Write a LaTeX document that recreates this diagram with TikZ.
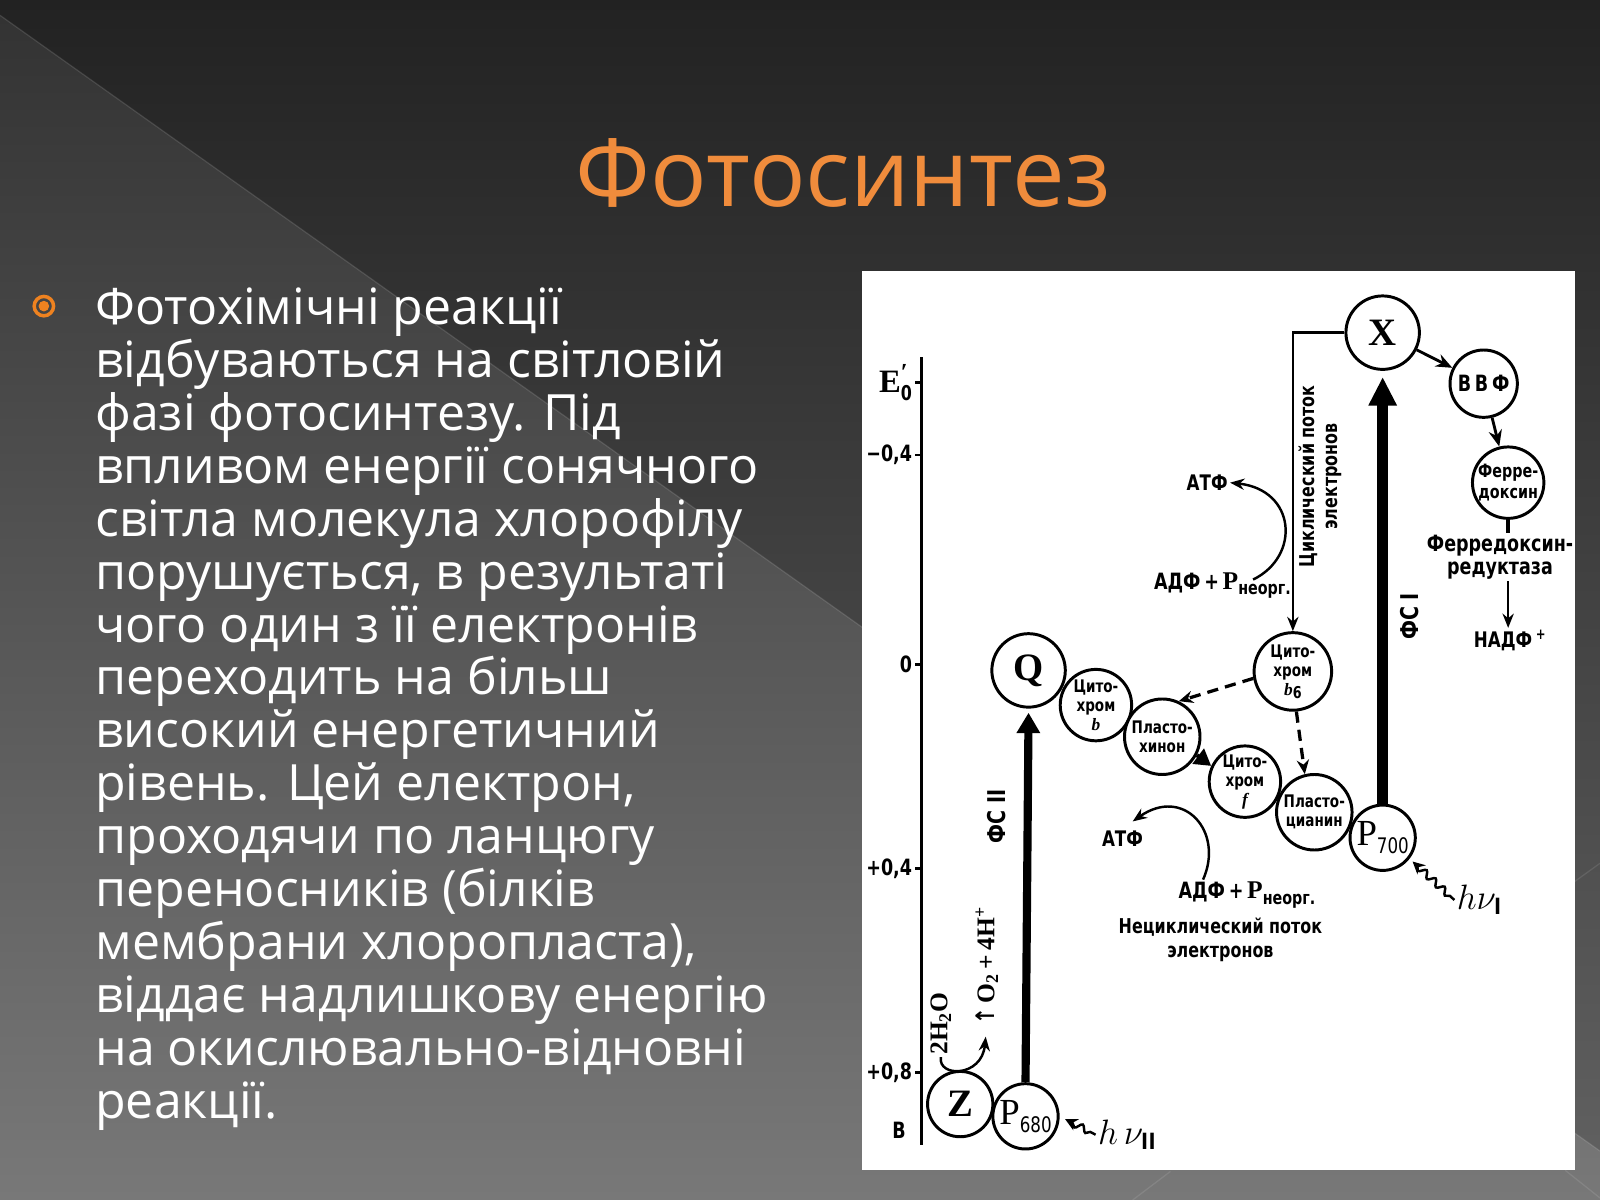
\documentclass[tikz,border=0pt]{standalone}
\usepackage{fontspec}
\setmainfont{Open Sans}
\newfontfamily\dfont{DejaVu Sans}[FakeStretch=0.78]
\newfontfamily\serfont{Liberation Serif}
\usetikzlibrary{arrows.meta,decorations.pathmorphing}
\definecolor{bgA}{HTML}{222222}
\definecolor{bgB}{HTML}{292929}
\definecolor{bgC}{HTML}{626262}
\definecolor{trA}{HTML}{333333}
\definecolor{trB}{HTML}{3F3F3F}
\definecolor{trC}{HTML}{787878}
\definecolor{titleor}{HTML}{F08C3C}
\definecolor{bulor}{HTML}{EE8220}
\begin{document}
\begin{tikzpicture}[x=0.5pt,y=-0.5pt,
  carrier/.style={circle,draw=black,line width=1.45pt,fill=white,inner sep=0pt,minimum size=#1pt},
  lbl/.style={align=center,inner sep=0pt,font=\dfont\bfseries\fontsize{8.5}{9.3}\selectfont},
  serlbl/.style={inner sep=0pt,font=\serfont\bfseries\fontsize{19}{19}\selectfont},
  dtext/.style={inner sep=1pt,align=center,font=\dfont\bfseries\fontsize{10.5}{12}\selectfont},
  axlbl/.style={anchor=east,inner sep=1pt,font=\dfont\bfseries\fontsize{11}{12}\selectfont},
  thinarrow/.style={line width=1.2pt,-{Stealth[length=7pt,width=5.5pt]}},
  dasharrow/.style={line width=1.6pt,dash pattern=on 5.5pt off 3.5pt,-{Stealth[length=7pt,width=6pt]}},
  wavy/.style={line width=1.2pt,-{Stealth[length=6pt,width=6pt]},decorate,decoration={snake,amplitude=1.6pt,segment length=6pt,pre length=3pt,post length=5pt}},
  body/.style={anchor=base west,inner sep=0pt,text=white,font=\fontsize{24.5}{30}\selectfont}
]
\useasboundingbox (0,0) rectangle (1568,1176);
% background
\shade[top color=bgA, middle color=bgB, bottom color=bgC] (0,0) rectangle (1568,1176);
\shade[top color=trA, middle color=trB, bottom color=trC] (0,15) -- (1568,1128) -- (1568,1176) -- (0,1176) -- cycle;
\draw[white, opacity=0.12, line width=0.6pt] (0,15) -- (1568,1128);
\draw[white, opacity=0.10, line width=0.6pt] (1543,864) -- (1568,846);
\draw[white, opacity=0.10, line width=0.6pt] (1534,1147) -- (1568,1174);
\draw[white, opacity=0.10, line width=0.6pt] (1110,1176) -- (1147,1148);

% title
\node[text=titleor, font=\fontsize{46}{50}\selectfont, inner sep=0pt] (title) at (826,170) {Фотосинтез};

% bullet and body text
\node[circle, draw=bulor, line width=1.7pt, minimum size=9.5pt, inner sep=0pt] (bullet) at (43,300) {};
\fill[bulor] (bullet.center) circle (2.6pt);
\foreach \t [count=\i] in {Фотохімічні реакції, відбуваються на світловій, фазі фотосинтезу. Під, впливом енергії сонячного, світла молекула хлорофілу, {порушується, в результаті}, чого один з її електронів, переходить на більш, високий енергетичний, {рівень. Цей електрон,}, проходячи по ланцюгу, переносників (білків, {мембрани хлоропласта),}, віддає надлишкову енергію, на окислювально-відновні, реакції.}
  \node[body] (l\i) at (93,{318+(\i-1)*51.87}) {\t};

% white panel
\fill[white] (845,266) rectangle (1543,1147);

% axis
\coordinate (axtop) at (903,350);
\coordinate (axbot) at (903,1122);
\draw[line width=1.3pt] (axtop) -- (axbot);
\draw[line width=1.2pt] (903,375) -- (897,375) node[anchor=east,inner sep=1pt,font=\serfont\bfseries\fontsize{16}{16}\selectfont] (e0) {E\rlap{\raisebox{0.8ex}{\fontsize{12}{12}\selectfont\bfseries ′}}\raisebox{-0.55ex}{\dfont\bfseries\fontsize{10}{10}\selectfont 0}};
\draw[line width=1.2pt] (903,446) -- (897,446) node[axlbl] (m04) {−0,4};
\draw[line width=1.2pt] (903,651) -- (897,651) node[axlbl] (z0) {0};
\draw[line width=1.2pt] (903,851) -- (897,851) node[axlbl] (p04) {+0,4};
\draw[line width=1.2pt] (903,1051) -- (897,1051) node[axlbl] (p08) {+0,8};
\node[axlbl, anchor=center] (vlab) at (881,1108) {В};

% carriers
\node[carrier=36] (X) at (1355,326) {};
\node[serlbl] (Xt) at (X) {X};
\node[carrier=33] (vvf) at (1454,376) {};
\node[lbl, font=\dfont\bfseries\fontsize{11}{11}\selectfont] (vvft) at (vvf) {В\,В\,Ф};
\node[carrier=35] (fd) at (1478,473) {};
\node[lbl, font=\dfont\bfseries\fontsize{9}{10.5}\selectfont] (fdt) at (fd) {Ферре-\\доксин};
\node[carrier=36] (Q) at (1008,657) {};
\node[serlbl] (Qt) at (Q) {Q};
\node[carrier=35] (cb) at (1074,691) {};
\node[lbl] (cbt) at (cb) {Цито-\\хром\\{\serfont\itshape b}};
\node[carrier=37] (pq) at (1139,722) {};
\node[lbl] (pqt) at (pq) {Пласто-\\хинон};
\node[carrier=38] (b6) at (1267,658) {};
\node[lbl] (b6t) at (b6) {Цито-\\хром\\{\serfont\itshape b}\raisebox{-0.3ex}{\fontsize{8}{8}\selectfont 6}};
\node[carrier=35] (cf) at (1220,766) {};
\node[lbl] (cft) at (cf) {Цито-\\хром\\{\serfont\itshape f}};
\node[carrier=37] (pc) at (1288,796) {};
\node[lbl] (pct) at (pc) {Пласто-\\цианин};
\node[carrier=32] (p700) at (1355,821) {};
\node[serlbl, font=\serfont\fontsize{18}{18}\selectfont] (p700t) at (p700) {P\raisebox{-0.45ex}{\dfont\fontsize{10.5}{10}\selectfont 700}};
\node[carrier=32] (Z) at (941,1082) {};
\node[serlbl] (Zt) at (Z) {Z};
\node[carrier=32] (p680) at (1005,1094) {};
\node[serlbl, font=\serfont\fontsize{18}{18}\selectfont] (p680t) at (p680) {P\raisebox{-0.45ex}{\dfont\fontsize{10.5}{10}\selectfont 680}};

% text labels
\node[dtext, font=\dfont\bfseries\fontsize{11}{11}\selectfont] (fr) at (1470,546) {Ферредоксин-\\редуктаза};
\node[dtext] (nadp) at (1480,628) {НАДФ\,\textsuperscript{+}};
\node[dtext] (atp1) at (1183,473) {АТФ};
\node[dtext, font=\dfont\bfseries\fontsize{11}{11}\selectfont] (adp1) at (1198,574) {АДФ\,+\,{\serfont\fontsize{12.5}{12}\selectfont P}\raisebox{-0.45ex}{\fontsize{9}{9}\selectfont неорг.}};
\node[dtext] (atp2) at (1100,822) {АТФ};
\node[dtext, font=\dfont\bfseries\fontsize{11}{11}\selectfont] (adp2) at (1222,877) {АДФ\,+\,{\serfont\fontsize{12.5}{12}\selectfont P}\raisebox{-0.45ex}{\fontsize{9}{9}\selectfont неорг.}};
\node[dtext, font=\dfont\bfseries\fontsize{10}{12}\selectfont] (ncyc) at (1196,921) {Нециклический поток\\электронов};
\node[dtext, rotate=90, font=\dfont\bfseries\fontsize{10}{11}\selectfont] (cyc) at (1294,467) {Циклический поток\\электронов};
\node[dtext, rotate=90, font=\dfont\bfseries\fontsize{12}{12}\selectfont] (fs2) at (977,800) {ФС II};
\node[dtext, rotate=90, font=\dfont\bfseries\fontsize{12}{12}\selectfont] (fs1) at (1381,604) {ФС I};
\node[rotate=90, inner sep=1pt, font=\serfont\bfseries\fontsize{12.5}{12}\selectfont] (h2o) at (922,1003) {2H\textsubscript{2}O};
\node[rotate=90, inner sep=1pt, font=\serfont\bfseries\fontsize{12.5}{12}\selectfont] (o2) at (967,946) {{\dfont\bfseries ↑}\,O\textsubscript{2}\,+\,4H\textsuperscript{+}};
\node[inner sep=1pt, font=\fontsize{16}{16}\selectfont] (hv1) at (1450,882) {$h\nu_{\mathbf{I}}$};
\node[inner sep=1pt, font=\fontsize{16}{16}\selectfont] (hv2) at (1105,1112) {$h\,\nu_{\mathbf{II}}$};

% connectors
\draw[line width=4pt, -{Triangle[length=10pt,width=11pt]}, shorten >=2pt] (p680.north) -- (Q.south);
\draw[line width=5.5pt, -{Triangle[length=14pt,width=13pt]}, shorten >=3pt] (p700.north) -- (X.south);
\draw[thinarrow] (X.west) -| (b6.north);
\draw[line width=1.4pt, -{Stealth[length=8pt,width=6.5pt]}] (X) -- (vvf);
\draw[line width=1.4pt, -{Stealth[length=8pt,width=6.5pt]}] (vvf) -- (fd);
\draw[line width=2pt] (fd.south) -- (fd.south |- fr.north);
\draw[thinarrow] (fd.south |- fr.south) -- (fd.south |- nadp.north);
\draw[dasharrow] (b6.190) -- (pq.65);
\draw[dasharrow] (b6.-85) -- (pc.104);
\draw[line width=2pt, -{Triangle[length=8pt,width=9pt]}] (pq.-28) -- (cf.155);
\coordinate (adp1s) at (1228,568);
\draw[thinarrow] (adp1s) .. controls (1275,545) and (1270,480) .. (atp1.east);
\coordinate (adp2s) at (1179,862);
\coordinate (atp2tip) at (1110,805);
\draw[thinarrow] (adp2s) .. controls (1200,815) and (1160,770) .. (atp2tip);
\draw[thinarrow, shorten >=5pt] (h2o.west) .. controls (919,1056) and (962,1056) .. (o2.west);
\draw[wavy, shorten >=2pt] (hv1.west) -- (p700.-38);
\draw[wavy, shorten >=3pt] (hv2.west) -- (p680.east);
\end{tikzpicture}
\end{document}
